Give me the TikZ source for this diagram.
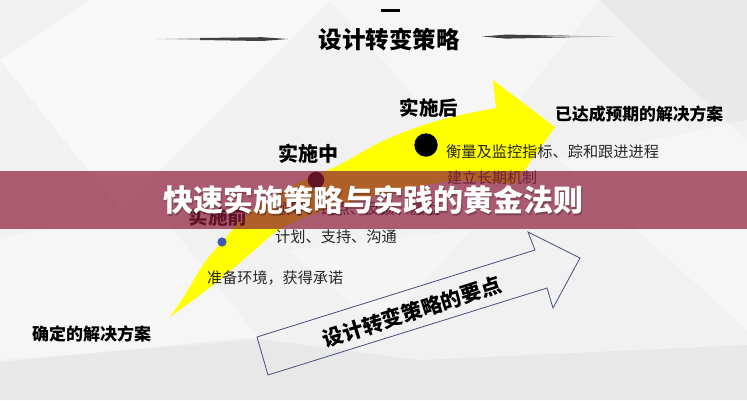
\documentclass[tikz,border=0pt]{standalone}
\usepackage{fontspec}
\newfontfamily\cjk{Noto Sans CJK SC}
\definecolor{bgc}{RGB}{241,241,241}
\definecolor{bannerc}{RGB}{142,28,57}
\definecolor{bodyc}{RGB}{40,40,40}
\definecolor{outlc}{RGB}{70,80,120}
\definecolor{dotblue}{RGB}{60,90,175}
\definecolor{arrowyellow}{RGB}{255,255,0}
\tikzset{
  txt/.style={inner sep=0pt, font=\cjk, text=bodyc},
  head/.style={inner sep=0pt, font=\cjk\bfseries, text=black},
  facet/.style={draw=none}
}
\begin{document}
\begin{tikzpicture}[x=1pt,y=-1pt]
\useasboundingbox (0,0) rectangle (747,400);
% background
\fill[bgc] (0,0) rectangle (747,400);
\fill[facet, white, opacity=0.5] (0,60) -- (90,0) -- (330,0) -- (120,210) -- cycle;
\fill[facet, white, opacity=0.4] (330,0) -- (600,0) -- (470,160) -- cycle;
\fill[facet, black, opacity=0.03] (600,0) -- (747,0) -- (747,140) -- (660,60) -- cycle;
\fill[facet, white, opacity=0.4] (560,160) -- (747,120) -- (747,330) -- cycle;
\fill[facet, white, opacity=0.4] (0,240) -- (150,200) -- (260,340) -- (0,360) -- cycle;
\fill[facet, black, opacity=0.035] (0,362) -- (250,338) -- (420,360) -- (747,345) -- (747,400) -- (0,400) -- cycle;
\fill[facet, white, opacity=0.35] (290,250) -- (470,230) -- (380,330) -- cycle;
% title
\node[head, font=\cjk\bfseries\fontsize{23.5}{24}\selectfont] (title) at (389,40) {设计转变策略};
\fill[black!25] (155,39) -- (200,38) -- (240,38.6) -- (200,40) -- cycle;
\fill[black!75] (200,38) -- (262,37.2) -- (288,39) -- (262,41) -- (200,40) -- cycle;
\fill[black!75] (482,36.5) -- (506,34.6) -- (570,35.6) -- (570,37.4) -- (506,38.6) -- cycle;
\fill[black!25] (530,35.8) -- (570,35.6) -- (615,36.6) -- (570,37.4) -- cycle;
\fill[black] (381,8.5) rectangle (400,11.5);
% yellow arrow
\fill[arrowyellow] plot[smooth, tension=0.6] coordinates {(170,317) (185,295) (203,265) (222,242) (250,212) (290,187) (337,166) (385,140) (440,120) (496,108)}
  -- (493,80) -- (555,127) -- (515,184) -- (455,180)
  -- plot[smooth, tension=0.6] coordinates {(455,180) (400,190) (330,208) (282,228) (257,248) (217,282) (170,317)} -- cycle;
% dots
\fill[black] (426,145) circle (11.7);
\fill[black] (316,180) circle (8.3);
\fill[dotblue] (222,242) circle (4.6);
% labels
\node[head, font=\cjk\bfseries\fontsize{19.5}{20}\selectfont] (after) at (429,108) {实施后};
\node[head, font=\cjk\bfseries\fontsize{20}{21}\selectfont] (during) at (308,154) {实施中};
\node[head, font=\cjk\bfseries\fontsize{19.7}{20}\selectfont] (before) at (218,217) {实施前};
\node[head, anchor=west, font=\cjk\bfseries\fontsize{16.8}{17}\selectfont] (goal) at (555,114) {已达成预期的解决方案};
\node[head, anchor=west, font=\cjk\bfseries\fontsize{17}{18}\selectfont] (start) at (32,334) {确定的解决方案};
\node[txt, anchor=west, font=\cjk\fontsize{15.2}{16}\selectfont] (t1) at (446,152) {衡量及监控指标、踪和跟进进程};
\node[txt, anchor=west, font=\cjk\fontsize{15}{16}\selectfont] (t2) at (447,178) {建立长期机制};
\node[txt, anchor=west, font=\cjk\fontsize{15}{16}\selectfont] (t3) at (275,209) {领导、试点、反馈、激励};
\node[txt, anchor=west, font=\cjk\fontsize{15.2}{16}\selectfont] (t4) at (275,237) {计划、支持、沟通};
\node[txt, anchor=west, font=\cjk\fontsize{15.1}{16}\selectfont] (t5) at (207,278) {准备环境，获得承诺};
% outline arrow
\draw[outlc, line width=0.8pt, line join=miter] (268,375) -- (257,337) -- (535,250) -- (528,232) -- (580,258) -- (553,308) -- (547,288) -- cycle;
\node[head, rotate=17.6, font=\cjk\bfseries\fontsize{20.7}{21}\selectfont] (keys) at (412,312) {设计转变策略的要点};
% banner
\fill[bannerc, opacity=0.7] (0,171) rectangle (747,229);
\node[inner sep=0pt, font=\cjk\bfseries\fontsize{30}{31}\selectfont, text=black, opacity=0.25] (bannershadow) at (374.5,201.5) {快速实施策略与实践的黄金法则};
\node[inner sep=0pt, font=\cjk\bfseries\fontsize{30}{31}\selectfont, text=white] (banner) at (373,200) {快速实施策略与实践的黄金法则};
\end{tikzpicture}
\end{document}
